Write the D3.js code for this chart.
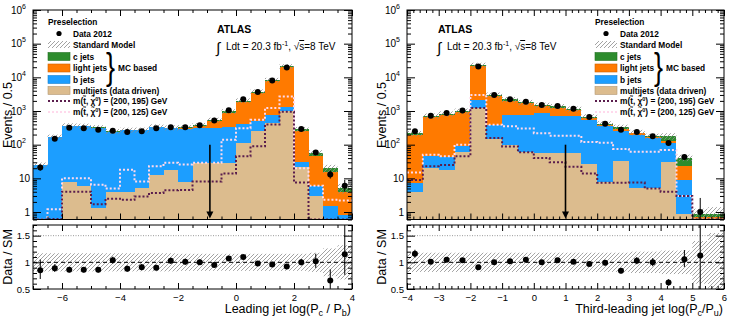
<!DOCTYPE html>
<html>
<head>
<meta charset="utf-8">
<script src="https://cdn.jsdelivr.net/npm/d3@7"></script>
<style>
  body { margin: 0; background: #fff; }
  svg { font-family: "Liberation Sans", Arial, sans-serif; }
</style>
</head>
<body>
<script>
// ---- left: leading jet log(Pc/Pb), bins of 0.5 from -7 to 4
const edgesLeft = [-7, -6.5, -6, -5.5, -5, -4.5, -4, -3.5, -3, -2.5, -2, -1.5, -1, -0.5, 0, 0.5, 1, 1.5, 2, 2.5, 3, 3.5];
const dataLeft = [21, 150, 320, 310, 280, 260, 240, 250, 310, 330, 330, 380, 520, 1050, 2250, 3700, 8000, 19500, 290, 59, 13, 6];
const multijetLeft = [0.3, 0.3, 8, 6, 1.3, 4, 4, 5, 13, 18, 8, 29, 29, 29, 112, 250, 440, 970, 22, 3, 0.3, 0.3];
const bjetLeft = [24, 165, 352, 344, 314, 239, 261, 260, 317, 287, 282, 291, 281, 301, 288, 250, 340, 330, 9, 3, 1.2, 0.5];
const lightLeft = [0.5, 2, 3, 3, 3, 3, 3, 4, 6, 8, 20, 35, 190, 570, 1450, 2950, 6820, 18700, 219, 39, 13.5, 3.2];
const cjetLeft = [0.5, 3, 7, 7, 7, 4, 5, 6, 8, 7, 17, 25, 47, 80, 195, 325, 733, 1200, 40, 13, 5, 1.2];
const sig195Left = [0.3, 0.62, 4, 4, 1.7, 2.5, 2.3, 2.9, 3.7, 4.4, 4.5, 8, 8, 14, 45, 90, 400, 950, 7.5, 0.3, 0.3, 0.3];
const sig125Left = [0.3, 1.2, 10, 10, 6.5, 5, 18, 8, 23, 29, 26, 29, 29, 140, 310, 550, 1230, 2700, 20, 6, 2.3, 2.2];
const ratioLeft = [0.85, 0.89, 0.86, 0.86, 0.86, 1.04, 0.88, 0.91, 0.90, 1.03, 1.01, 1.00, 0.95, 1.07, 1.10, 0.98, 0.96, 0.92, 1.00, 1.02, 0.66, 1.15];
const errLeft = [0.17, 0.17, 0.17, 0.17, 0.17, 0.17, 0.17, 0.17, 0.17, 0.17, 0.16, 0.16, 0.16, 0.16, 0.16, 0.16, 0.16, 0.16, 0.16, 0.18, 0.26, 0.32];
const ticksLeft = [-6, -4, -2, 0, 2, 4];

// ---- right: third-leading jet log(Pc/Pu), bins of 0.5 from -4 to 6
const edgesRight = [-4, -3.5, -3, -2.5, -2, -1.5, -1, -0.5, 0, 0.5, 1, 1.5, 2, 2.5, 3, 3.5, 4, 4.5, 5, 5.5];
const dataRight = [250, 720, 870, 1040, 21000, 3000, 2250, 1900, 1500, 1420, 1170, 660, 420, 280, 237, 177, 112, 43, 1, null];
const multijetRight = [4, 20, 18, 60, 1200, 150, 100, 60, 55, 57, 57, 26, 8, 32, 5, 5, 31, 0.9, 0.3, 0.3];
const bjetRight = [3.3, 25, 24, 29, 950, 240, 670, 720, 815, 633, 643, 524, 342, 215, 193, 153, 81, 8.1, 0.2, 0.2];
const lightRight = [193, 615, 728, 841, 19350, 2410, 1280, 900, 520, 560, 360, 70, 40, 53, 17, 7, 18, 14, 0.2, 0.2];
const cjetRight = [15, 53, 59, 70, 1500, 200, 150, 130, 110, 115, 100, 60, 34, 33, 15, 12, 50, 18.6, 0.2, 0.2];
const sig195Right = [9, 23, 25, 45, 1220, 158, 89, 60, 40, 30, 22, 14, 7.4, 7.4, 7.5, 5, 4, 3, 0.3, 0.3];
const sig125Right = [15, 50, 45, 100, 3000, 390, 350, 300, 220, 185, 185, 120, 115, 75, 62, 62, 70, 3, 0.3, 0.3];
const ratioRight = [1.16, 1.01, 1.05, 1.04, 0.91, 1.00, 1.02, 1.05, 1.00, 1.04, 1.01, 0.97, 0.99, 0.84, 1.03, 1.00, 0.62, 1.06, 1.13, null];
const errRight = [0.18, 0.18, 0.18, 0.18, 0.18, 0.18, 0.18, 0.18, 0.18, 0.18, 0.18, 0.18, 0.18, 0.18, 0.2, 0.2, 0.22, 0.22, 0.4, 0.55];
const ticksRight = [-4, -3, -2, -1, 0, 1, 2, 3, 4, 5, 6];

const colors = { multijet: "#dcbc8e", bjet: "#1c9eff", light: "#ff7a00", cjet: "#2d8c2d" };
const sigDark = "#5a1d4d", sigPale = "#ffd9ec";

const svg = d3.select("body").append("svg").attr("width", 733).attr("height", 322);
const defs = svg.append("defs");
const hatch = defs.append("pattern").attr("id", "hatch")
  .attr("patternUnits", "userSpaceOnUse").attr("width", 4).attr("height", 4);
hatch.append("path").attr("d", "M-1,1 l2,-2 M0,4 l4,-4 M3,5 l2,-2")
  .attr("stroke", "#8c8c8c").attr("stroke-width", 0.8);

panel({ id: "L", x0: 33, x1: 352, xDomain: [-7, 4], edges: edgesLeft, data: dataLeft,
  multijet: multijetLeft, bjet: bjetLeft, light: lightLeft, cjet: cjetLeft,
  sig195: sig195Left, sig125: sig125Left, ratio: ratioLeft, err: errLeft,
  ticks: ticksLeft, minorStep: 0.5, cut: -0.9, titleX: 12,
  title: ["Leading jet log(P", "c", " / P", "b", ")"] });
panel({ id: "R", x0: 407, x1: 724, xDomain: [-4, 6], edges: edgesRight, data: dataRight,
  multijet: multijetRight, bjet: bjetRight, light: lightRight, cjet: cjetRight,
  sig195: sig195Right, sig125: sig125Right, ratio: ratioRight, err: errRight,
  ticks: ticksRight, minorStep: 0.2, cut: 1.0, titleX: 386,
  title: ["Third-leading jet log(P", "c", "/P", "u", ")"] });

legend(48, 106);
legend(595, 654);
atlas(217);
atlas(438);

function panel(p) {
  const yTop = 10, yBot = 219.5, rTop = 225, rBot = 289;
  const x = d3.scaleLinear().domain(p.xDomain).range([p.x0, p.x1]);
  const y = d3.scaleLog().domain([0.6, 1e6]).range([yBot, yTop]).clamp(true);
  const yr = d3.scaleLinear().domain([0.5, 1.7]).range([rBot, rTop]).clamp(true);
  const g = svg.append("g");

  const rows = p.edges.map((e, i) => ({
    lo: e, hi: e + 0.5, multijet: p.multijet[i], bjet: p.bjet[i], light: p.light[i], cjet: p.cjet[i],
    data: p.data[i], ratio: p.ratio[i], err: p.err[i]
  }));
  rows.forEach(r => { r.total = r.multijet + r.bjet + r.light + r.cjet; });
  const series = d3.stack().keys(["multijet", "bjet", "light", "cjet"])(rows);

  defs.append("clipPath").attr("id", "clip" + p.id).append("rect")
    .attr("x", p.x0).attr("y", yTop).attr("width", p.x1 - p.x0).attr("height", yBot - yTop);
  defs.append("clipPath").attr("id", "rclip" + p.id).append("rect")
    .attr("x", p.x0).attr("y", rTop).attr("width", p.x1 - p.x0).attr("height", rBot - rTop);
  const plot = g.append("g").attr("clip-path", `url(#clip${p.id})`);

  series.forEach(s => {
    plot.append("g").selectAll("rect").data(s).join("rect")
      .attr("shape-rendering", "crispEdges")
      .attr("x", d => x(d.data.lo)).attr("width", d => x(d.data.hi) - x(d.data.lo))
      .attr("y", d => y(d[1]))
      .attr("height", d => Math.max(0, y(Math.max(d[0], 0.6)) - y(d[1])))
      .attr("fill", colors[s.key]);
  });

  // SM uncertainty band
  plot.append("g").selectAll("rect").data(rows).join("rect")
    .attr("x", d => x(d.lo)).attr("width", d => x(d.hi) - x(d.lo))
    .attr("y", d => y(d.total * (1 + d.err)))
    .attr("height", d => Math.max(0, y(d.total * (1 - d.err)) - y(d.total * (1 + d.err))))
    .attr("fill", "url(#hatch)");

  // signal step lines
  const step = d3.line().curve(d3.curveStepAfter).x(d => x(d[0])).y(d => y(d[1]));
  [[p.sig125, sigPale], [p.sig195, sigDark]].forEach(([vals, col]) => {
    const pts = p.edges.map((e, i) => [e, vals[i]]);
    pts.push([p.edges[p.edges.length - 1] + 0.5, vals[vals.length - 1]]);
    plot.append("path").attr("d", step(pts)).attr("fill", "none")
      .attr("stroke", col).attr("stroke-width", 2).attr("stroke-dasharray", "2,2");
  });

  // cut arrow
  const ax = x(p.cut);
  g.append("line").attr("x1", ax).attr("x2", ax).attr("y1", y(100)).attr("y2", yBot - 6)
    .attr("stroke", "#000").attr("stroke-width", 1.6);
  g.append("path").attr("d", `M${ax - 3.5},${yBot - 8} L${ax + 3.5},${yBot - 8} L${ax},${yBot - 1}Z`).attr("fill", "#000");

  // data points with Poisson-like error bars
  const dRows = rows.filter(r => r.data != null);
  const errUp = n => Math.sqrt(n + 0.25) + 0.5, errDn = n => Math.sqrt(n + 0.25) - 0.5;
  const mid = d => x(d.lo + 0.25);
  plot.append("g").selectAll("line").data(dRows).join("line")
    .attr("x1", mid).attr("x2", mid)
    .attr("y1", d => y(d.data + errUp(d.data))).attr("y2", d => y(Math.max(d.data - errDn(d.data), 0.6)))
    .attr("stroke", "#000").attr("stroke-width", 1);
  g.append("g").selectAll("circle").data(dRows).join("circle")
    .attr("cx", mid).attr("cy", d => y(d.data)).attr("r", 3).attr("fill", "#000");

  g.append("rect").attr("x", p.x0).attr("y", yTop).attr("width", p.x1 - p.x0).attr("height", yBot - yTop)
    .attr("fill", "none").attr("stroke", "#000").attr("stroke-width", 1);

  // main axes ticks
  const decades = [1, 10, 100, 1e3, 1e4, 1e5, 1e6];
  const minorsY = [];
  [0.1, 1, 10, 100, 1e3, 1e4, 1e5].forEach(dd => { for (let k = 2; k <= 9; k++) { const v = k * dd; if (v >= 0.6 && v <= 1e6) minorsY.push(v); } });
  const xMinor = d3.range(p.xDomain[0], p.xDomain[1] + 1e-6, p.minorStep).filter(v => !p.ticks.some(t => Math.abs(t - v) < 1e-6));
  const tickAxis = (gen, sc, vals, size, tx, ty) => {
    const a = g.append("g").attr("transform", `translate(${tx},${ty})`)
      .call(gen(sc).tickValues(vals).tickSize(size).tickFormat(""));
    a.select(".domain").remove();
  };
  tickAxis(d3.axisLeft, y, decades, -8, p.x0, 0);
  tickAxis(d3.axisLeft, y, minorsY, -4, p.x0, 0);
  tickAxis(d3.axisRight, y, decades, -8, p.x1, 0);
  tickAxis(d3.axisRight, y, minorsY, -4, p.x1, 0);
  tickAxis(d3.axisBottom, x, p.ticks, -6, 0, yBot);
  tickAxis(d3.axisBottom, x, xMinor, -3, 0, yBot);
  tickAxis(d3.axisTop, x, p.ticks, -6, 0, yTop);
  tickAxis(d3.axisTop, x, xMinor, -3, 0, yTop);

  const yl = g.append("g").attr("font-size", 10).attr("text-anchor", "end");
  decades.forEach(v => {
    const e = Math.round(Math.log10(v));
    const t = yl.append("text").attr("x", p.x0 - (e >= 2 ? 7 : 3)).attr("y", y(v) + 3.5);
    if (e === 0) t.text("1");
    else if (e === 1) t.text("10");
    else {
      t.append("tspan").text("10");
      t.append("tspan").attr("dy", -5).attr("font-size", 7).text(e);
    }
  });

  // ratio panel
  const rg = g.append("g");
  const rplot = rg.append("g").attr("clip-path", `url(#rclip${p.id})`);
  rplot.append("g").selectAll("rect").data(rows).join("rect")
    .attr("x", d => x(d.lo)).attr("width", d => x(d.hi) - x(d.lo))
    .attr("y", d => yr(1 + d.err)).attr("height", d => yr(1 - d.err) - yr(1 + d.err))
    .attr("fill", "url(#hatch)");
  rplot.append("line").attr("x1", p.x0).attr("x2", p.x1).attr("y1", yr(1.5)).attr("y2", yr(1.5))
    .attr("stroke", "#9a9a9a").attr("stroke-dasharray", "1,1.5");
  rplot.append("line").attr("x1", p.x0).attr("x2", p.x1).attr("y1", yr(1)).attr("y2", yr(1))
    .attr("stroke", "#000").attr("stroke-dasharray", "4,3");
  const rRows = rows.filter(r => r.ratio != null);
  rplot.append("g").selectAll("line").data(rRows).join("line")
    .attr("x1", mid).attr("x2", mid)
    .attr("y1", d => yr(d.ratio + errUp(d.data) / d.total))
    .attr("y2", d => yr(d.ratio - errDn(d.data) / d.total))
    .attr("stroke", "#000").attr("stroke-width", 1);
  rg.append("g").selectAll("circle").data(rRows).join("circle")
    .attr("cx", mid).attr("cy", d => yr(d.ratio)).attr("r", 3).attr("fill", "#000");
  rg.append("rect").attr("x", p.x0).attr("y", rTop).attr("width", p.x1 - p.x0).attr("height", rBot - rTop)
    .attr("fill", "none").attr("stroke", "#000").attr("stroke-width", 1);

  const rAxisL = rg.append("g").attr("transform", `translate(${p.x0},0)`)
    .call(d3.axisLeft(yr).tickValues([0.5, 1, 1.5]).tickSize(-8).tickPadding(3).tickFormat(d3.format("")));
  rAxisL.select(".domain").remove();
  rAxisL.selectAll("text").attr("font-size", 9.5).attr("font-family", "Liberation Sans, Arial, sans-serif");
  const rMinor = d3.range(0.6, 1.71, 0.1).filter(v => Math.abs(v - 1) > 1e-6 && Math.abs(v - 1.5) > 1e-6);
  const rAxes = [
    d3.axisLeft(yr).tickValues(rMinor).tickSize(-4), d3.axisRight(yr).tickValues([0.5, 1, 1.5]).tickSize(-8),
    d3.axisRight(yr).tickValues(rMinor).tickSize(-4)
  ];
  rAxes.forEach((a, i) => {
    const ga = rg.append("g").attr("transform", `translate(${i === 0 ? p.x0 : p.x1},0)`).call(a.tickFormat(""));
    ga.select(".domain").remove();
  });
  const rx = rg.append("g").attr("transform", `translate(0,${rBot})`)
    .call(d3.axisBottom(x).tickValues(p.ticks).tickSize(-6).tickPadding(5).tickFormat(d3.format("")));
  rx.select(".domain").remove();
  rx.selectAll("text").attr("font-size", 9.5).attr("font-family", "Liberation Sans, Arial, sans-serif");
  [[d3.axisBottom, xMinor, -3, rBot], [d3.axisTop, p.ticks, -6, rTop], [d3.axisTop, xMinor, -3, rTop]].forEach(([gen, vals, s, ty]) => {
    const ga = rg.append("g").attr("transform", `translate(0,${ty})`).call(gen(x).tickValues(vals).tickSize(s).tickFormat(""));
    ga.select(".domain").remove();
  });
  g.selectAll(".tick line").attr("stroke", "#000");

  // titles
  const tf = g.append("g").attr("font-size", 12.5);
  tf.append("text").attr("transform", `translate(${p.titleX},115) rotate(-90)`)
    .attr("text-anchor", "middle").text("Events / 0.5");
  tf.append("text").attr("transform", `translate(${p.titleX},257) rotate(-90)`)
    .attr("text-anchor", "middle").text("Data / SM");
  const xt = tf.append("text").attr("x", p.x1 - 1).attr("y", 313).attr("text-anchor", "end");
  p.title.forEach((s, i) => {
    const ts = xt.append("tspan").text(s);
    if (i % 2 === 1) ts.attr("font-size", 9).attr("dy", 3);
    else if (i > 0) ts.attr("dy", -3);
  });
}

function legend(lx, bx) {
  const lg = svg.append("g").attr("font-size", 8.3).attr("font-weight", "bold");
  const tx = lx + 25;
  lg.append("text").attr("x", lx).attr("y", 25).text("Preselection");
  lg.append("circle").attr("cx", lx + 11).attr("cy", 33.5).attr("r", 2.6).attr("fill", "#000");
  lg.append("text").attr("x", tx).attr("y", 36.5).text("Data 2012");
  lg.append("rect").attr("x", lx).attr("y", 41).attr("width", 22).attr("height", 7).attr("fill", "url(#hatch)");
  lg.append("text").attr("x", tx).attr("y", 47.5).text("Standard Model");
  const boxes = [["cjet", "c jets", 56.5], ["light", "light jets", 68], ["bjet", "b jets", 79.5], ["multijet", "multijets (data driven)", 90.5]];
  boxes.forEach(([k, label, cy]) => {
    lg.append("rect").attr("x", lx).attr("y", cy - 4).attr("width", 22).attr("height", 8)
      .attr("fill", colors[k]).attr("stroke", d3.color(colors[k]).darker(0.6)).attr("stroke-width", 0.6);
    lg.append("text").attr("x", tx).attr("y", cy + 3).text(label);
  });
  [[sigDark, "195", 101], [sigPale, "125", 112]].forEach(([col, m, cy]) => {
    lg.append("line").attr("x1", lx).attr("x2", lx + 22).attr("y1", cy).attr("y2", cy)
      .attr("stroke", col).attr("stroke-width", 2).attr("stroke-dasharray", "2,2");
    const t = lg.append("text").attr("x", tx).attr("y", cy + 3);
    t.append("tspan").text("m(t\u0303, \u03c7\u0303");
    t.append("tspan").attr("font-size", 5.5).attr("dy", -3.5).text("0");
    t.append("tspan").attr("dy", 3.5).text(`) = (200, ${m}) GeV`);
  });
  lg.append("text").attr("x", bx).attr("y", 79).attr("font-size", 36).attr("font-weight", "normal")
    .attr("transform", `translate(${bx},0) scale(0.75,1) translate(${-bx},0)`).text("}");
  lg.append("text").attr("x", bx + 12).attr("y", 71).text("MC based");
}

function atlas(ax) {
  const t = svg.append("g");
  t.append("text").attr("x", ax).attr("y", 33).attr("font-size", 10.5).attr("font-weight", "bold").text("ATLAS");
  t.append("text").attr("x", ax - 1).attr("y", 53).attr("font-size", 15).text("\u222b");
  const l = t.append("text").attr("x", ax + 9).attr("y", 50).attr("font-size", 10);
  l.append("tspan").text("Ldt = 20.3 fb");
  l.append("tspan").attr("font-size", 7).attr("dy", -4).text("-1");
  l.append("tspan").attr("dy", 4).text(", \u221a");
  l.append("tspan").attr("text-decoration", "overline").text("s");
  l.append("tspan").text("=8 TeV");
}
</script>
</body>
</html>
